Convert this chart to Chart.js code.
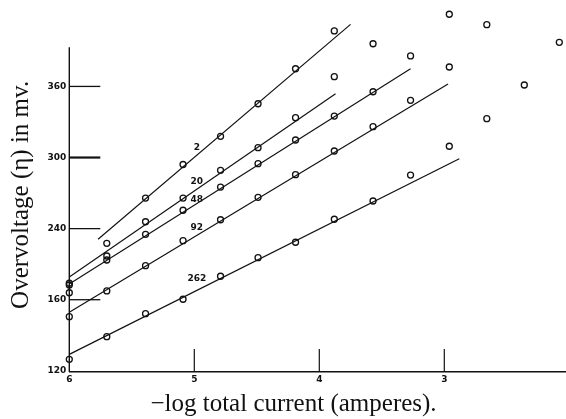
<!DOCTYPE html>
<html><head><meta charset="utf-8">
<script src="https://cdn.jsdelivr.net/npm/chart.js@4/dist/chart.umd.min.js"></script>
<style>html,body{margin:0;padding:0;background:#fff;overflow:hidden}#wrap{width:587px;height:419px}</style>
</head><body><div id="wrap"><canvas id="c" width="587" height="419"></canvas></div>
<script>
// -log total current (amperes) at which points were measured
const currentLog = [6.00, 5.70, 5.39, 5.09, 4.79, 4.49, 4.19, 3.88, 3.57, 3.27, 2.96, 2.66, 2.36, 2.08];
// overvoltage (mv) for each curve
const eta2   = [185.9, 227.6, 265.8, 294.1, 317.9, 345.4, 374.9, 406.8, null, null, null, null, null, null];
const eta20  = [193.9, 216.9, 245.8, 265.8, 289.2, 308.3, 333.6, 368.2, 396.0, null, null, null, null, null];
const eta48  = [192.4, 213.5, 235.2, 255.5, 275.1, 294.8, 314.8, 335.0, 355.5, 385.7, 420.9, null, null, null];
const eta92  = [165.7, 187.4, 208.7, 229.8, 247.5, 266.4, 285.5, 305.5, 326.0, 348.3, 376.4, 412.1, null, null];
const eta262 = [129.7, 148.8, 168.2, 180.4, 199.8, 215.5, 228.5, 247.9, 263.3, 285.2, 309.5, 332.8, 361.2, 397.2];
// fitted straight lines: [start, end]
const fit2X = [5.77, 3.75],   fit2Y = [231.0, 412.4];
const fit20X = [6.00, 3.87],  fit20Y = [199.2, 353.9];
const fit48X = [6.00, 3.27],  fit48Y = [193.3, 374.9];
const fit92X = [6.00, 2.97],  fit92Y = [169.4, 362.0];
const fit262X = [6.00, 2.88], fit262Y = [133.9, 299.0];
const seriesNames = ['2', '20', '48', '92', '262'];
const seriesLabelX = [4.98, 4.98, 4.98, 4.98, 4.98];
const seriesLabelY = [308.0, 279.6, 264.7, 240.8, 198.1];
// axes
const xTickValues = [6, 5, 4, 3, 2];
const xInnerTicks = [5, 4, 3];
const yTickValues = [120, 180, 240, 300, 360];
const yTickLabels = ['120', '160', '240', '300', '360'];
const yInnerTicks = [180, 240, 300, 360];
const yAxisTop = 393;

const INK = '#111';
const allEta = [eta2, eta20, eta48, eta92, eta262];
const fits = [[fit2X, fit2Y], [fit20X, fit20Y], [fit48X, fit48Y], [fit92X, fit92Y], [fit262X, fit262Y]];

const datasets = [];
fits.forEach(([fx, fy]) => {
  datasets.push({
    data: fx.map((x, i) => ({x, y: fy[i]})),
    showLine: true, pointRadius: 0, borderColor: INK, borderWidth: 1.2, clip: false
  });
});
allEta.forEach(arr => {
  datasets.push({
    data: currentLog.map((x, i) => arr[i] == null ? null : {x, y: arr[i]}).filter(Boolean),
    showLine: false, pointRadius: 3, pointBorderWidth: 1.3,
    pointBorderColor: INK, pointBackgroundColor: 'rgba(0,0,0,0)', clip: false
  });
});

const decor = {
  id: 'decor',
  afterDatasetsDraw(chart) {
    const {ctx, chartArea: a, scales: {x, y}} = chart;
    ctx.save();
    ctx.strokeStyle = INK;
    ctx.lineWidth = 1.4;
    ctx.beginPath();
    ctx.moveTo(a.left, y.getPixelForValue(yAxisTop));
    ctx.lineTo(a.left, a.bottom);
    ctx.stroke();
    yInnerTicks.forEach(v => {
      const p = y.getPixelForValue(v);
      ctx.lineWidth = v === 300 ? 2.2 : 1.3;
      ctx.beginPath(); ctx.moveTo(a.left, p); ctx.lineTo(a.left + 31, p); ctx.stroke();
    });
    xInnerTicks.forEach(v => {
      const p = x.getPixelForValue(v);
      ctx.lineWidth = 1.2;
      ctx.beginPath(); ctx.moveTo(p, a.bottom); ctx.lineTo(p, a.bottom - 23); ctx.stroke();
    });
    ctx.fillStyle = INK;
    ctx.font = 'bold 9px "DejaVu Sans"';
    ctx.textAlign = 'center';
    ctx.textBaseline = 'middle';
    seriesNames.forEach((n, i) => ctx.fillText(n, x.getPixelForValue(seriesLabelX[i]), y.getPixelForValue(seriesLabelY[i])));
    ctx.restore();
  }
};

new Chart(document.getElementById('c'), {
  type: 'scatter',
  data: {datasets},
  plugins: [decor],
  options: {
    responsive: false, animation: false, devicePixelRatio: 1,
    layout: {padding: {top: 17.7, left: 0, right: 0, bottom: 0}},
    plugins: {
      legend: {display: false}, tooltip: {enabled: false},
      title: {display: true, position: 'bottom', text: '\u2212log total current (amperes).',
        color: INK, padding: 0, font: {family: 'Liberation Serif', size: 25, weight: 'normal'}}
    },
    scales: {
      x: {
        type: 'linear', position: 'bottom', min: 2, max: 6, reverse: true,
        afterFit(s) { s.height = 17; },
        afterBuildTicks(s) { s.ticks = xTickValues.map(v => ({value: v})); },
        grid: {display: true, drawOnChartArea: false, drawTicks: false},
        border: {display: true, color: INK, width: 1.5},
        ticks: {color: INK, padding: 2, maxRotation: 0, autoSkip: false,
          font: {family: 'DejaVu Sans', size: 9, weight: 'bold'}}
      },
      y: {
        type: 'linear', position: 'left', min: 119, max: 418,
        afterFit(s) { s.width = 69.3; },
        afterBuildTicks(s) { s.ticks = yTickValues.map(v => ({value: v})); },
        grid: {display: true, drawOnChartArea: false, drawTicks: false},
        border: {display: false},
        ticks: {color: INK, padding: 3, autoSkip: false,
          callback: (v, i) => yTickLabels[i],
          font: {family: 'DejaVu Sans', size: 9, weight: 'bold'}},
        title: {display: true, text: 'Overvoltage (\u03b7) in mv.', color: INK,
          padding: {top: 6, bottom: 0},
          font: {family: 'Liberation Serif', size: 25, weight: 'normal'}}
      },
      yR: {
        type: 'linear', position: 'right', display: true,
        afterFit(s) { s.width = 17.7; },
        grid: {display: false}, border: {display: false}, ticks: {display: false}
      }
    }
  }
});
</script>
</body></html>
